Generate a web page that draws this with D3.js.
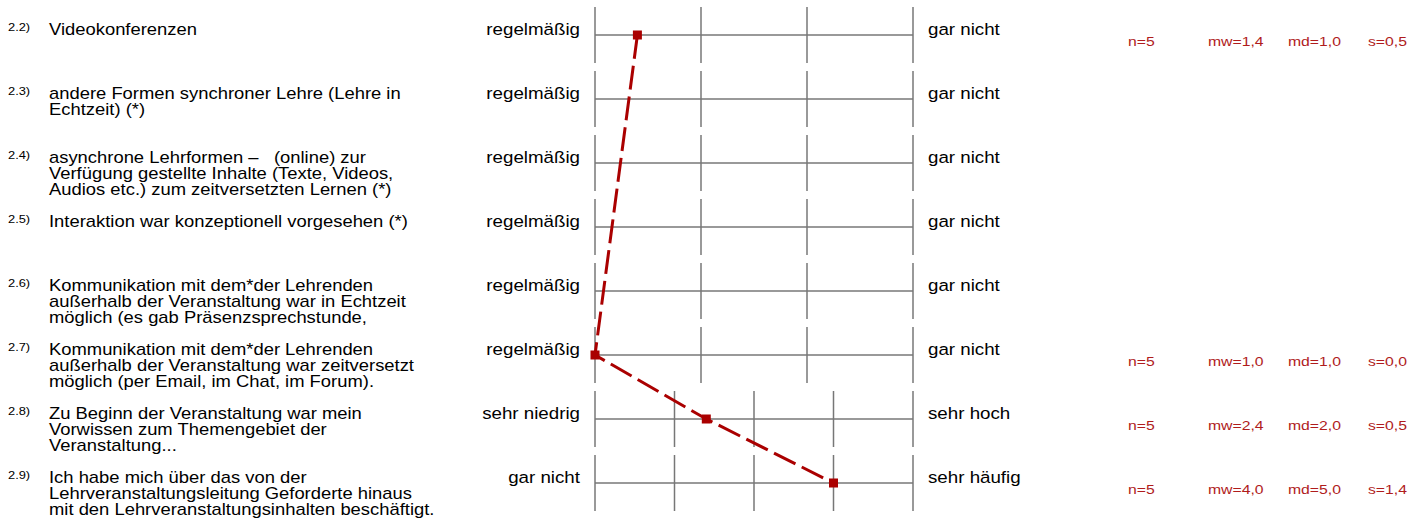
<!DOCTYPE html>
<html>
<head>
<meta charset="utf-8">
<script src="https://cdn.jsdelivr.net/npm/d3@7"></script>
<style>
  html, body { margin: 0; padding: 0; background: #fff; }
  svg { display: block; }
  text { font-family: "Liberation Sans", Arial, Helvetica, sans-serif; white-space: pre; }
</style>
</head>
<body>
<svg id="chart" width="1423" height="524"></svg>
<script>
// ---- data ----
const itemIds = ["2.2)", "2.3)", "2.4)", "2.5)", "2.6)", "2.7)", "2.8)", "2.9)"];
const questions = [
  ["Videokonferenzen"],
  ["andere Formen synchroner Lehre (Lehre in", "Echtzeit) (*)"],
  ["asynchrone Lehrformen –   (online) zur", "Verfügung gestellte Inhalte (Texte, Videos,", "Audios etc.) zum zeitversetzten Lernen (*)"],
  ["Interaktion war konzeptionell vorgesehen (*)"],
  ["Kommunikation mit dem*der Lehrenden", "außerhalb der Veranstaltung war in Echtzeit", "möglich (es gab Präsenzsprechstunde,"],
  ["Kommunikation mit dem*der Lehrenden", "außerhalb der Veranstaltung war zeitversetzt", "möglich (per Email, im Chat, im Forum)."],
  ["Zu Beginn der Veranstaltung war mein", "Vorwissen zum Themengebiet der", "Veranstaltung..."],
  ["Ich habe mich über das von der", "Lehrveranstaltungsleitung Geforderte hinaus", "mit den Lehrveranstaltungsinhalten beschäftigt."]
];
const leftLabels = ["regelmäßig", "regelmäßig", "regelmäßig", "regelmäßig", "regelmäßig", "regelmäßig", "sehr niedrig", "gar nicht"];
const rightLabels = ["gar nicht", "gar nicht", "gar nicht", "gar nicht", "gar nicht", "gar nicht", "sehr hoch", "sehr häufig"];
const scalePoints = [4, 4, 4, 4, 4, 4, 5, 5];
const nValues  = [5, null, null, null, null, 5, 5, 5];
const mwValues = [1.4, null, null, null, null, 1.0, 2.4, 4.0];
const mdValues = [1.0, null, null, null, null, 1.0, 2.0, 5.0];
const sValues  = [0.5, null, null, null, null, 0.0, 0.5, 1.4];

// ---- layout ----
const SX = 1.15;           // horizontal stretch of the reference's text
const svg = d3.select("#chart");
const y = d3.scaleLinear().domain([0, itemIds.length - 1]).range([35, 483]);
const xFor = i => d3.scaleLinear().domain([1, scalePoints[i]]).range([595, 913]);
const fmt = v => d3.format(".1f")(v).replace(".", ",");

function stext(g, str, x, yy, size, anchor, color) {
  return g.append("text")
    .attr("transform", `translate(${x},${yy}) scale(${SX},1)`)
    .attr("text-anchor", anchor || "start")
    .attr("font-size", size)
    .attr("fill", color || "#000")
    .text(str);
}

const rows = svg.selectAll("g.row").data(itemIds).join("g").attr("class", "row");

rows.each(function (id, i) {
  const g = d3.select(this);
  const yy = y(i);
  const x = xFor(i);
  // item number
  stext(g, id, 8, yy - 4, 11.2);
  // question lines
  questions[i].forEach((line, k) => stext(g, line, 49, yy + k * 16, 16));
  // scale grid
  g.append("line").attr("x1", x.range()[0]).attr("x2", x.range()[1])
    .attr("y1", yy).attr("y2", yy)
    .attr("stroke", "#777").attr("stroke-width", 1.5);
  g.selectAll("line.tick").data(d3.range(1, scalePoints[i] + 1)).join("line")
    .attr("class", "tick")
    .attr("x1", d => x(d)).attr("x2", d => x(d))
    .attr("y1", yy - 28).attr("y2", yy + 28)
    .attr("stroke", "#777").attr("stroke-width", 1.5);
  // pole labels
  stext(g, leftLabels[i], 580, yy, 16.3, "end");
  stext(g, rightLabels[i], 928, yy, 16.3, "start");
  // statistics
  if (nValues[i] != null) {
    const c = "#b01c1c";
    stext(g, "n=" + nValues[i], 1128, yy + 11, 13.7, "start", c);
    stext(g, "mw=" + fmt(mwValues[i]), 1208, yy + 11, 13.7, "start", c);
    stext(g, "md=" + fmt(mdValues[i]), 1288, yy + 11, 13.7, "start", c);
    stext(g, "s=" + fmt(sValues[i]), 1368, yy + 11, 13.7, "start", c);
  }
});

// profile line through means
const pts = mwValues.map((v, i) => v == null ? null : [xFor(i)(v), y(i)]).filter(d => d);
svg.append("path")
  .attr("d", d3.line()(pts))
  .attr("fill", "none")
  .attr("stroke", "#aa0000")
  .attr("stroke-width", 3)
  .attr("stroke-dasharray", "24,7");
svg.selectAll("rect.mark").data(pts).join("rect")
  .attr("class", "mark")
  .attr("x", d => d[0] - 4.5).attr("y", d => d[1] - 4.5)
  .attr("width", 9).attr("height", 9)
  .attr("fill", "#aa0000");
</script>
</body>
</html>
